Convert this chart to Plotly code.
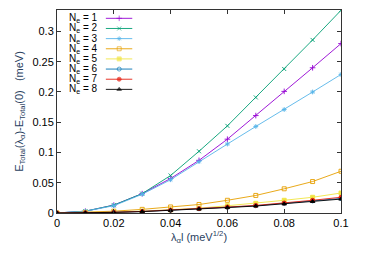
import plotly.graph_objects as go

x_vals = [0, 0.01, 0.02, 0.03, 0.04, 0.05, 0.06, 0.07, 0.08, 0.09, 0.1]
ne1 = [0, 0.003, 0.013, 0.032, 0.057, 0.087, 0.122, 0.161, 0.201, 0.240, 0.280]
ne2 = [0, 0.003, 0.013, 0.032, 0.062, 0.102, 0.144, 0.191, 0.238, 0.286, 0.335]
ne3 = [0, 0.003, 0.012, 0.031, 0.055, 0.085, 0.114, 0.143, 0.171, 0.200, 0.229]
ne4 = [0, 0.001, 0.003, 0.006, 0.010, 0.014, 0.021, 0.029, 0.040, 0.052, 0.069]
ne5 = [0, 0.0004, 0.0015, 0.003, 0.005, 0.008, 0.012, 0.016, 0.021, 0.026, 0.033]
ne6 = [0, 0.0003, 0.0011, 0.0025, 0.0045, 0.007, 0.0095, 0.012, 0.016, 0.020, 0.024]
ne7 = [0, 0.0003, 0.0012, 0.0026, 0.0047, 0.0072, 0.0098, 0.0125, 0.0165, 0.021, 0.026]
ne8 = [0, 0.0003, 0.0010, 0.0023, 0.0042, 0.0065, 0.009, 0.0115, 0.015, 0.019, 0.023]
series_names = ["1", "2", "3", "4", "5", "6", "7", "8"]
colors = ["#9400d3", "#009e73", "#56b4e9", "#e69f00", "#f0e442", "#0072b2", "#e51e10", "#000000"]
symbols = ["cross-thin-open", "x-thin-open", "asterisk-open", "square-open", "square",
           "circle-open", "circle", "triangle-up"]
x_ticks = [0, 0.02, 0.04, 0.06, 0.08, 0.1]
x_tick_text = ["0", "0.02", "0.04", "0.06", "0.08", "0.1"]
y_ticks = [0, 0.05, 0.1, 0.15, 0.2, 0.25, 0.3]
y_tick_text = ["0", "0.05", "0.1", "0.15", "0.2", "0.25", "0.3"]

all_series = [ne1, ne2, ne3, ne4, ne5, ne6, ne7, ne8]
FONT = "Liberation Sans, Arial"

fig = go.Figure()
for name, ys, c, s in zip(series_names, all_series, colors, symbols):
    fig.add_trace(go.Scatter(
        x=x_vals, y=ys, mode="lines+markers",
        line=dict(color=c, width=0.9),
        marker=dict(symbol=s, size=4, color=c, line=dict(color=c, width=0.9)),
        showlegend=False, name="N_e = " + name))

# custom gnuplot-style legend (text left, sample right) on helper axes
for i, (name, c, s) in enumerate(zip(series_names, colors, symbols)):
    yy = 0.959 - i * 0.05
    fig.add_trace(go.Scatter(
        x=[0.172, 0.219, 0.265], y=[yy, yy, yy], xaxis="x2", yaxis="y2",
        mode="lines+markers", line=dict(color=c, width=0.9),
        marker=dict(symbol=s, size=[0, 4, 0], color=c, line=dict(color=c, width=0.9)),
        showlegend=False, hoverinfo="skip"))
    fig.add_annotation(x=0.148, y=yy, xref="x2", yref="y2", xanchor="right",
                       yanchor="middle", showarrow=False, borderpad=0,
                       text="N<sub>e</sub> = " + name,
                       font=dict(family=FONT, size=10, color="black"))

axis_common = dict(showline=True, linecolor="#333333", linewidth=1, mirror="ticks",
                   ticks="inside", ticklen=4, tickcolor="#333333", showgrid=False,
                   zeroline=False, automargin=False,
                   tickfont=dict(family=FONT, size=11, color="black"))

fig.update_layout(
    width=366, height=256,
    margin=dict(l=57, r=25, t=10, b=43),
    paper_bgcolor="white", plot_bgcolor="white",
    xaxis=dict(range=[0, 0.1], tickvals=x_ticks, ticktext=x_tick_text,
               title=dict(text="λ<sub>α</sub>l (meV<sup>1/2</sup>)", standoff=4,
                          font=dict(family=FONT, size=11)),
               **axis_common),
    yaxis=dict(range=[0, 0.3355], tickvals=y_ticks, ticktext=y_tick_text,
               title=dict(text="E<sub>Total</sub>(λ<sub>α</sub>)-E<sub>Total</sub>(0)   (meV)",
                          standoff=6,
                          font=dict(family=FONT, size=11)),
               **axis_common),
    xaxis2=dict(range=[0, 1], overlaying="x", visible=False, domain=[0, 1]),
    yaxis2=dict(range=[0, 1], overlaying="y", visible=False),
)

fig.write_html("out.html", config={"displayModeBar": False},
               post_script="document.body.style.margin='0';document.body.style.overflow='hidden';")
